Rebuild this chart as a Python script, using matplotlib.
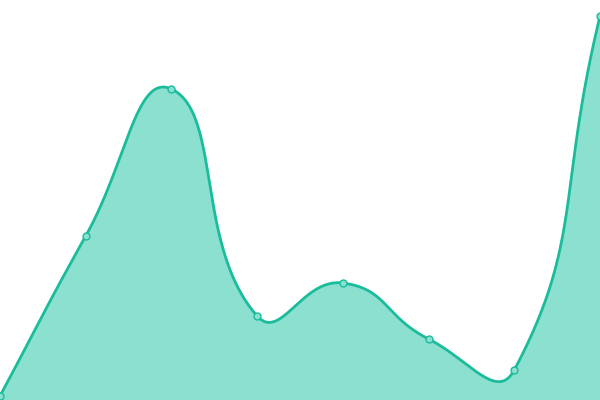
import numpy as np
import matplotlib
matplotlib.use("Agg")
import matplotlib.pyplot as plt

# data (no axes shown, values in plot units)
categories = ["0", "1", "2", "3", "4", "5", "6", "7"]
values = [4, 164, 311, 84, 117, 61, 30, 384]

LINE = "#1abc9c"
FILL = "#8be0cf"
SMOOTH = 0.5

fig = plt.figure(figsize=(6, 4), dpi=100)
ax = fig.add_axes([0, 0, 1, 1])
ax.set_xlim(0, len(values) - 1)
ax.set_ylim(0, 400)
ax.axis("off")

x = np.arange(len(values))
pts = ax.transData.transform(np.column_stack([x, values]))


# bezier smoothing in pixel space, like echarts' smooth line
def smooth_path(p, smooth):
    n = len(p)
    cps = []
    for i in range(n):
        prev = p[max(i - 1, 0)]
        nxt = p[min(i + 1, n - 1)]
        cur = p[i]
        v = (nxt - prev) * smooth
        d0 = np.hypot(*(cur - prev))
        d1 = np.hypot(*(cur - nxt))
        s = d0 + d1
        if s > 0:
            d0, d1 = d0 / s, d1 / s
        cps.append((cur - v * d0, cur + v * d1))
    out = []
    t = np.linspace(0, 1, 60)[:, None]
    for i in range(n - 1):
        a, b = p[i], cps[i][1]
        c, d = cps[i + 1][0], p[i + 1]
        seg = (1 - t) ** 3 * a + 3 * (1 - t) ** 2 * t * b + 3 * (1 - t) * t ** 2 * c + t ** 3 * d
        out.append(seg if i == 0 else seg[1:])
    return np.vstack(out)


curve = ax.transData.inverted().transform(smooth_path(pts, SMOOTH))

ax.fill_between(curve[:, 0], curve[:, 1], 0, color=FILL, lw=0)
ax.plot(curve[:, 0], curve[:, 1], color=LINE, lw=2.0, solid_capstyle="round")
ax.plot(x, values, "o", ms=5, mfc=FILL, mec=LINE, mew=1.0)

fig.savefig("out.png", dpi=100)
